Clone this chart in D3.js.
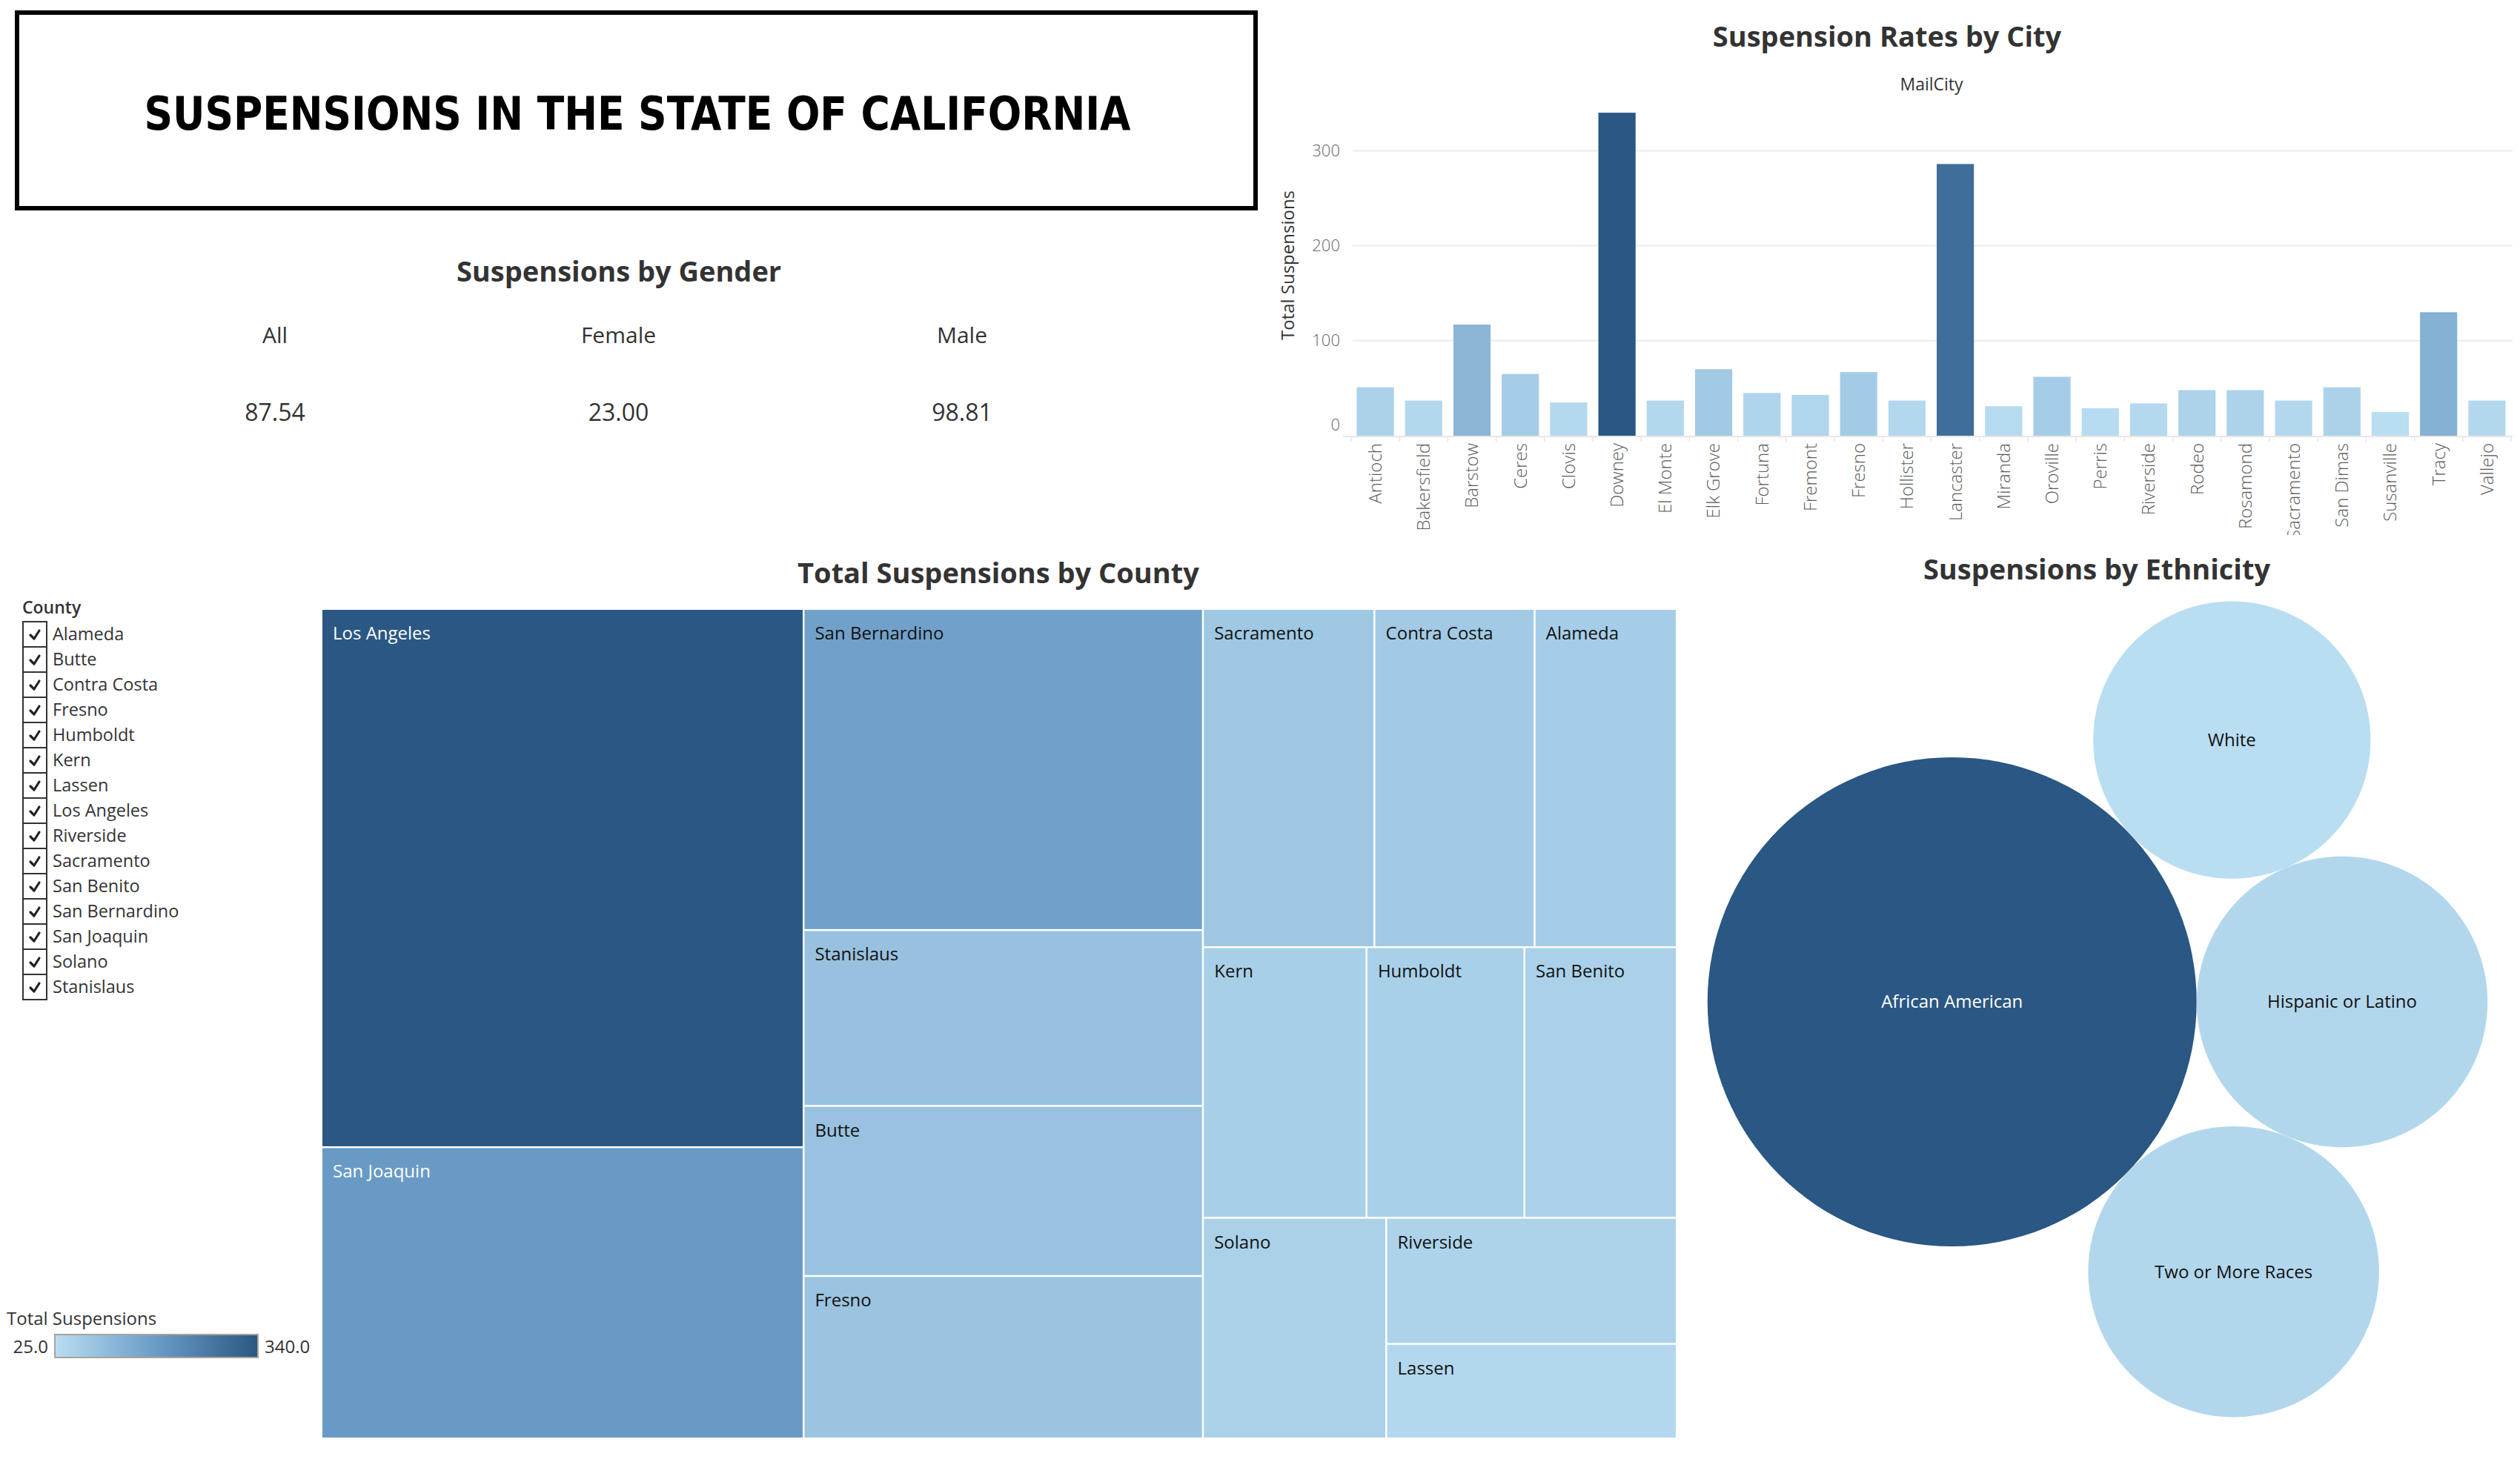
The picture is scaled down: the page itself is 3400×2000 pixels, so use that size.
<!DOCTYPE html>
<html><head><meta charset="utf-8">
<script src="https://cdn.jsdelivr.net/npm/d3@7"></script>
<style>body{margin:0;background:#fff} svg{display:block}</style>
</head><body>
<svg id="c" width="3400" height="2000"></svg>
<script>
// ---------------- DATA ----------------
const mainTitle = "SUSPENSIONS IN THE STATE OF CALIFORNIA";
const genderCategories = ["All", "Female", "Male"];
const genderValues = [87.54, 23.00, 98.81];

const cities = ["Antioch","Bakersfield","Barstow","Ceres","Clovis","Downey","El Monte","Elk Grove","Fortuna","Fremont","Fresno","Hollister","Lancaster","Miranda","Oroville","Perris","Riverside","Rodeo","Rosamond","Sacramento","San Dimas","Susanville","Tracy","Vallejo"];
const cityValues = [51,37,117,65,35,340,37,70,45,43,67,37,286,31,62,29,34,48,48,37,51,25,130,37];
const cityTicks = [0,100,200,300];

const counties = ["Los Angeles","San Joaquin","San Bernardino","Stanislaus","Butte","Fresno","Sacramento","Contra Costa","Alameda","Kern","Humboldt","San Benito","Solano","Riverside","Lassen"];
const countyValues = [340,184,168,92,89,85,76,71,63,58,56,54,53,48,36];
const filterCounties = ["Alameda","Butte","Contra Costa","Fresno","Humboldt","Kern","Lassen","Los Angeles","Riverside","Sacramento","San Benito","San Bernardino","San Joaquin","Solano","Stanislaus"];

const legendDomain = [25, 340];
const legendLabels = ["25.0", "340.0"];

const ethnicities = ["African American","Hispanic or Latino","Two or More Races","White"];
const ethnicityValues = [311,110,110,100];

// ---------------- STYLE ----------------
const blues = ["#b9ddf1", "#6a9bc6", "#2a5783"];
const FONT = "'Open Sans', 'Noto Sans', sans-serif";
const colorScale = (lo, hi) => d3.scaleLinear().domain([lo, (lo + hi) / 2, hi]).range(blues).interpolate(d3.interpolateRgb);

const svg = d3.select("#c");

function title(txt, x, y) {
  return svg.append("text").attr("x", x).attr("y", y).attr("text-anchor", "middle")
    .attr("font-family", FONT).attr("font-weight", 700).attr("font-size", 38)
    .attr("fill", "#333").text(txt);
}

// ---------------- MAIN TITLE ----------------
svg.append("rect").attr("x", 23).attr("y", 17).attr("width", 1671).attr("height", 264)
  .attr("fill", "none").attr("stroke", "#000").attr("stroke-width", 6);
svg.append("text").attr("x", 860).attr("y", 175).attr("text-anchor", "middle")
  .attr("font-family", "'DejaVu Sans', sans-serif").attr("font-weight", 700).attr("font-size", 63)
  .attr("fill", "#000").attr("textLength", 1331).attr("lengthAdjust", "spacingAndGlyphs").text(mainTitle);

// ---------------- GENDER ----------------
title("Suspensions by Gender", 835, 380);
const gx = d3.scalePoint().domain(genderCategories).range([371, 1298]);
svg.append("g").selectAll("text").data(genderCategories).join("text")
  .attr("x", d => gx(d)).attr("y", 463).attr("text-anchor", "middle")
  .attr("font-family", FONT).attr("font-size", 30).attr("fill", "#333").text(d => d);
svg.append("g").selectAll("text").data(genderValues).join("text")
  .attr("x", (d, i) => gx(genderCategories[i])).attr("y", 568).attr("text-anchor", "middle")
  .attr("font-family", FONT).attr("font-size", 32).attr("fill", "#333").text(d => d3.format(".2f")(d));

// ---------------- CITY BAR CHART ----------------
title("Suspension Rates by City", 2546, 63);
svg.append("text").attr("x", 2606).attr("y", 122).attr("text-anchor", "middle")
  .attr("font-family", FONT).attr("font-size", 23).attr("fill", "#333").text("MailCity");

const bx = d3.scaleBand().domain(cities).range([1823, 3388]).paddingInner(0.23).paddingOuter(0.115);
const by = d3.scaleLinear().domain([0, 300]).range([588, 203.4]);
const barColor = colorScale(d3.min(cityValues), d3.max(cityValues));

const bars = svg.append("g");
bars.selectAll("line.grid").data(cityTicks.filter(t => t > 0)).join("line")
  .attr("x1", 1825).attr("x2", 3390).attr("y1", d => by(d)).attr("y2", d => by(d))
  .attr("stroke", "#ececec").attr("stroke-width", 2);
bars.append("line").attr("x1", 1812).attr("x2", 3390).attr("y1", by(0) + 1).attr("y2", by(0) + 1)
  .attr("stroke", "#e6e6e6").attr("stroke-width", 2);
bars.selectAll("rect").data(cities).join("rect")
  .attr("x", d => bx(d)).attr("width", bx.bandwidth())
  .attr("y", (d, i) => by(cityValues[i])).attr("height", (d, i) => by(0) - by(cityValues[i]))
  .attr("fill", (d, i) => barColor(cityValues[i]));
const step = bx.step();
bars.selectAll("line.sep").data(cities.concat(["_end"])).join("line")
  .attr("x1", (d, i) => bx.range()[0] + i * step).attr("x2", (d, i) => bx.range()[0] + i * step)
  .attr("y1", by(0) + 2).attr("y2", by(0) + 8).attr("stroke", "#e6e6e6").attr("stroke-width", 1.5);
const yAxis = svg.append("g").attr("transform", "translate(1810,0)")
  .call(d3.axisLeft(by).tickValues(cityTicks).tickSize(0).tickPadding(2));
yAxis.select(".domain").remove();
yAxis.selectAll("text").attr("font-family", FONT).attr("font-size", 22).attr("font-weight", 300)
  .attr("fill", "#666").attr("dy", d => d === 0 ? "-0.35em" : "0.32em");
svg.append("text").attr("transform", "translate(1738,358) rotate(-90)").attr("dy", "0.35em")
  .attr("text-anchor", "middle").attr("font-family", FONT).attr("font-size", 24).attr("fill", "#333")
  .text("Total Suspensions");
svg.append("clipPath").attr("id", "xclip").append("rect").attr("x", 1800).attr("y", 590).attr("width", 1600).attr("height", 132);
svg.append("g").attr("clip-path", "url(#xclip)").selectAll("text").data(cities).join("text")
  .attr("transform", d => `translate(${bx(d) + bx.bandwidth() / 2},598) rotate(-90)`)
  .attr("dy", "0.35em").attr("text-anchor", "end")
  .attr("font-family", FONT).attr("font-size", 24).attr("font-weight", 300).attr("fill", "#5a5a5a")
  .text(d => d);

// ---------------- COUNTY FILTER ----------------
svg.append("text").attr("x", 30).attr("y", 828).attr("font-family", FONT).attr("font-weight", 600)
  .attr("font-size", 23).attr("fill", "#333").text("County");
const fy = d3.scaleBand().domain(filterCounties).range([839, 839 + 34 * filterCounties.length]);
const frows = svg.append("g").selectAll("g").data(filterCounties).join("g")
  .attr("transform", d => `translate(0,${fy(d)})`);
frows.append("rect").attr("x", 31).attr("y", 0).attr("width", 32).attr("height", 34)
  .attr("fill", "#fff").attr("stroke", "#333").attr("stroke-width", 2);
frows.append("path").attr("d", "M41,18 L46,23 L53,12").attr("fill", "none")
  .attr("stroke", "#222").attr("stroke-width", 3.2).attr("stroke-linecap", "round").attr("stroke-linejoin", "round");
frows.append("text").attr("x", 71).attr("y", 25).attr("font-family", FONT).attr("font-size", 23.5)
  .attr("fill", "#333").text(d => d);

// ---------------- COLOR LEGEND ----------------
const treeColor = colorScale(legendDomain[0], legendDomain[1]);
const grad = svg.append("defs").append("linearGradient").attr("id", "lg");
grad.selectAll("stop").data(d3.range(0, 1.0001, 0.1)).join("stop")
  .attr("offset", d => d).attr("stop-color", d => treeColor(legendDomain[0] + d * (legendDomain[1] - legendDomain[0])));
svg.append("text").attr("x", 9).attr("y", 1788).attr("font-family", FONT).attr("font-size", 24)
  .attr("fill", "#333").text("Total Suspensions");
svg.append("rect").attr("x", 74).attr("y", 1801).attr("width", 274).attr("height", 31)
  .attr("fill", "url(#lg)").attr("stroke", "#aaa39a").attr("stroke-width", 2);
svg.append("text").attr("x", 65).attr("y", 1826).attr("text-anchor", "end").attr("font-family", FONT)
  .attr("font-size", 24).attr("fill", "#333").text(legendLabels[0]);
svg.append("text").attr("x", 357).attr("y", 1826).attr("font-family", FONT)
  .attr("font-size", 24).attr("fill", "#333").text(legendLabels[1]);

// ---------------- TREEMAP ----------------
title("Total Suspensions by County", 1347, 787);
const root = d3.hierarchy({ children: counties.map((c, i) => ({ name: c, value: countyValues[i] })) })
  .sum(d => d.value || 0).sort((a, b) => b.value - a.value);
d3.treemap().tile(d3.treemapSquarify).size([1826, 1117]).paddingInner(2.5)(root);
const tm = svg.append("g").attr("transform", "translate(435,823)");
const cells = tm.selectAll("g").data(root.leaves()).join("g")
  .attr("transform", d => `translate(${d.x0},${d.y0})`);
cells.append("rect").attr("width", d => d.x1 - d.x0).attr("height", d => d.y1 - d.y0)
  .attr("fill", d => treeColor(d.data.value));
cells.append("text").attr("x", 14).attr("y", 40).attr("font-family", FONT).attr("font-size", 24)
  .attr("fill", d => d.data.value > 176 ? "#fff" : "#111").text(d => d.data.name);

// ---------------- ETHNICITY BUBBLES ----------------
title("Suspensions by Ethnicity", 2829, 782);
const rScale = d3.scaleSqrt().domain([0, d3.max(ethnicityValues)]).range([0, 330]);
const ethColor = colorScale(d3.min(ethnicityValues), d3.max(ethnicityValues));
const bubbles = ethnicities.map((e, i) => ({ name: e, value: ethnicityValues[i], r: rScale(ethnicityValues[i]) }));
d3.packSiblings(bubbles);
const bx0 = d3.min(bubbles, d => d.x - d.r), bx1 = d3.max(bubbles, d => d.x + d.r);
const by0 = d3.min(bubbles, d => d.y - d.r), by1 = d3.max(bubbles, d => d.y + d.r);
const bg = svg.append("g").attr("transform", `translate(${2830 - (bx0 + bx1) / 2},${1362 - (by0 + by1) / 2})`);
bg.selectAll("circle").data(bubbles).join("circle")
  .attr("cx", d => d.x).attr("cy", d => d.y).attr("r", d => d.r).attr("fill", d => ethColor(d.value));
bg.selectAll("text").data(bubbles).join("text")
  .attr("x", d => d.x).attr("y", d => d.y).attr("dy", "0.35em").attr("text-anchor", "middle")
  .attr("font-family", FONT).attr("font-size", 24)
  .attr("fill", d => d.value === d3.max(ethnicityValues) ? "#fff" : "#111")
  .text(d => d.name);
</script>
</body></html>
